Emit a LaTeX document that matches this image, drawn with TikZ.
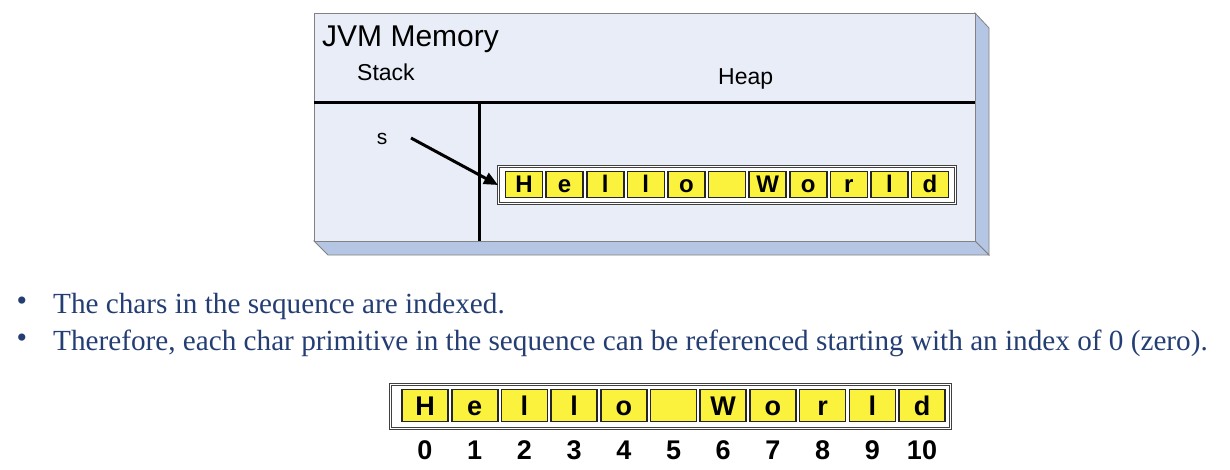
\documentclass[tikz,border=0pt]{standalone}
\usepackage{fontspec}
\setmainfont{Liberation Sans}
\newfontfamily\bodyserif{Liberation Serif}
\usetikzlibrary{arrows.meta}
\definecolor{face}{RGB}{233,237,247}
\definecolor{depthc}{RGB}{181,198,228}
\definecolor{edgec}{RGB}{130,130,130}
\definecolor{cellyellow}{RGB}{250,242,60}
\definecolor{textblue}{RGB}{36,62,115}
\newcommand{\fsz}[1]{\fontsize{#1}{#1}\selectfont}
\begin{document}
\begin{tikzpicture}[x=1pt,y=-1pt,
  cellbox/.style={draw=black!85, line width=1.6pt, fill=cellyellow, inner sep=0pt},
  topcell/.style={cellbox, minimum width=37pt, minimum height=26pt, text height=17pt, text depth=0pt, font=\fsz{24}\bfseries},
  botcell/.style={cellbox, minimum width=46pt, minimum height=32pt, text height=19.5pt, text depth=0pt, font=\fsz{27}\bfseries},
  strbox/.style={draw=black!75, line width=1pt, double=white, double distance=1.8pt, fill=white, inner sep=0pt, anchor=north west},
  idx/.style={font=\fsz{27}\bfseries, inner sep=0pt, anchor=base},
  bullettext/.style={anchor=base west, text=textblue, font=\bodyserif\fsz{29.2}, inner sep=0pt},
  bulletdot/.style={text=textblue, font=\bodyserif\fsz{30}, inner sep=0pt}
]
\useasboundingbox (0,0) rectangle (1230,470);
% 3D memory box
\filldraw[fill=depthc, draw=edgec, line width=0.8pt] (975,13) -- (989,28) -- (989,255) -- (975,241) -- cycle;
\filldraw[fill=depthc, draw=edgec, line width=0.8pt] (314,241) -- (975,241) -- (989,255) -- (328,255) -- cycle;
\node[draw=edgec, line width=0.8pt, fill=face, minimum width=661pt, minimum height=228pt, anchor=north west, inner sep=0pt] (mem) at (314,13) {};
\coordinate (divL) at (314,103);
\coordinate (divR) at (975,103);
\coordinate (vtop) at (479,103);
\coordinate (vbot) at (479,241);
\draw[line width=3pt] (divL) -- (divR);
\draw[line width=3pt] (vtop) -- (vbot);
\node[anchor=base west, font=\fsz{30}, inner sep=0pt] (title) at (322,47) {JVM Memory};
\node[anchor=base west, font=\fsz{23}, inner sep=0pt] (stack) at (357,81) {Stack};
\node[anchor=base west, font=\fsz{23}, inner sep=0pt] (heap) at (718,85) {Heap};
\node[font=\fsz{21}, inner sep=0pt] (s) at (382,139) {s};
% heap string
\node[strbox, minimum width=457pt, minimum height=37pt] (heapstr) at (498,166) {};
\foreach \c [count=\i from 0] in {H,e,l,l,o,{},W,o,r,l,d} {
  \node[topcell] (t\i) at (524+40.6*\i,184.5) {\c};
}
\coordinate (sref) at (411,138);
\draw[line width=3pt, -{Triangle[length=14pt,width=12pt]}] (sref) -- (heapstr.west);
% bullets
\node[bulletdot] (d1) at (22,304) {•};
\node[bullettext] (b1) at (53,313) {The chars in the sequence are indexed.};
\node[bulletdot] (d2) at (22,341) {•};
\node[bullettext] (b2) at (53,350) {Therefore, each char primitive in the sequence can be referenced starting with an index of 0 (zero).};
% indexed string
\node[strbox, minimum width=560pt, minimum height=44pt] (seqstr) at (390,384) {};
\foreach \c [count=\i from 0] in {H,e,l,l,o,{},W,o,r,l,d} {
  \node[botcell] (c\i) at (425+49.7*\i,405.5) {\c};
  \node[idx] (n\i) at (425+49.7*\i,459.5) {\i};
}
\end{tikzpicture}
\end{document}
